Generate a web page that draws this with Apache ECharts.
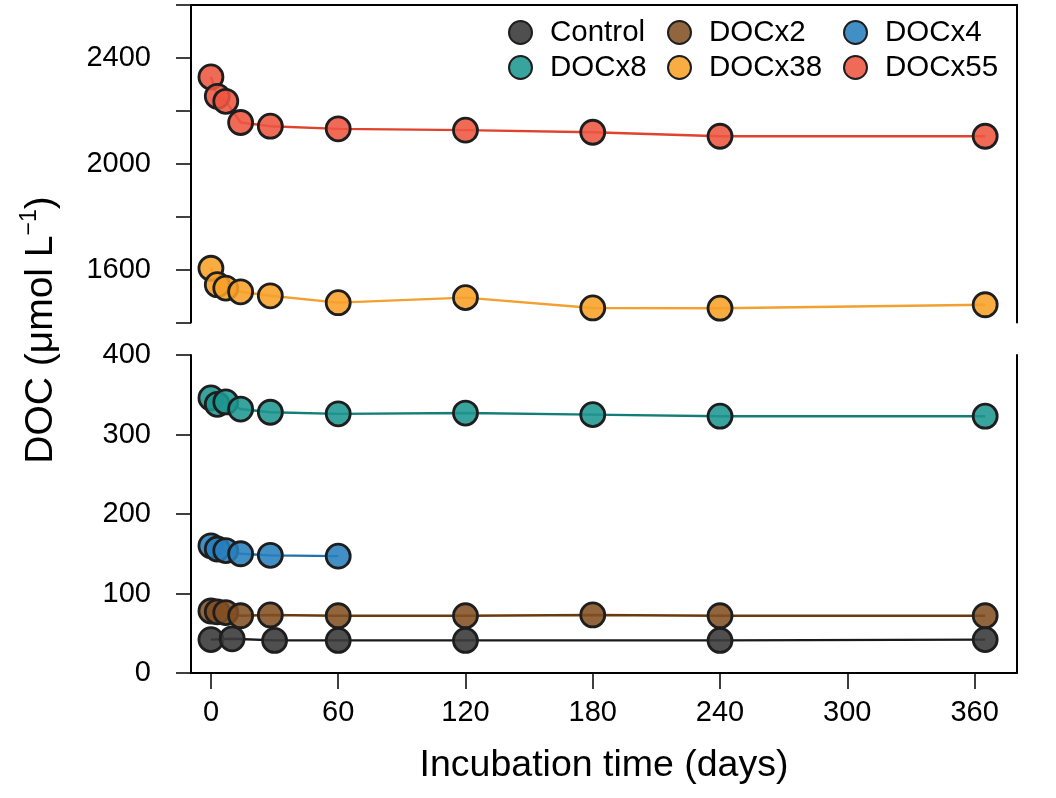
<!DOCTYPE html>
<html>
<head>
<meta charset="utf-8">
<script src="https://cdn.jsdelivr.net/npm/echarts@6/dist/echarts.min.js"></script>
<style>html,body{margin:0;padding:0;background:#fff;}#c{width:1056px;height:798px;}</style>
</head>
<body>
<div id="c"></div>
<script>
// ---- data ----
const days = [0, 3, 7, 14, 28, 60, 120, 180, 240, 365];
const controlDays = [0, 10, 30, 60, 120, 240, 365];
const docx4Days = [0, 3, 7, 14, 28, 60];
const control = [42, 43, 41, 41, 41, 41, 42];
const docx2 = [78, 77, 76, 72, 73, 72, 72, 73, 72, 72];
const docx4 = [160, 156, 154, 150, 148, 147];
const docx8 = [346, 338, 341, 332, 328, 326, 327, 325, 323, 323];
const docx38 = [1605, 1543, 1530, 1516, 1501, 1475, 1494, 1455, 1454, 1467];
const docx55 = [2328, 2255, 2236, 2156, 2142, 2132, 2127, 2119, 2104, 2104];
const xTicks = [0, 60, 120, 180, 240, 300, 360];
const upperLabels = [1600, 2000, 2400];

const FONT = '"Liberation Sans", Arial, Helvetica, sans-serif';
const pairs = (xs, ys) => xs.map((x, i) => [x, ys[i]]);

function mkSeries(name, xs, ys, fill, line, panel) {
  return {
    name: name, type: 'line',
    xAxisIndex: panel, yAxisIndex: panel === 0 ? 0 : 2,
    data: pairs(xs, ys),
    symbol: 'circle', symbolSize: 24,
    itemStyle: { color: fill, borderColor: '#1e1e1e', borderWidth: 2.8 },
    lineStyle: { color: line, width: 2.4 },
    emphasis: { disabled: true },
    z: 3
  };
}

const axisLineStyle = { color: '#000', width: 2 };

const chart = echarts.init(document.getElementById('c'), null, { renderer: 'canvas' });
const legendBase = {
  orient: 'vertical', top: 10, itemWidth: 23, itemHeight: 23, itemGap: 0,
  icon: 'circle',
  textStyle: { fontSize: 29.5, color: '#000', fontFamily: FONT, padding: [0, 0, 0, 13], lineHeight: 35 }
};
chart.setOption({
  animation: false,
  textStyle: { fontFamily: FONT },
  grid: [
    { left: 191, right: 39, top: 5, height: 317.5 },
    { left: 191, right: 39, top: 355, height: 318 }
  ],
  legend: [
    Object.assign({}, legendBase, { left: 503, data: ['Control', 'DOCx8'] }),
    Object.assign({}, legendBase, { left: 662, data: ['DOCx2', 'DOCx38'] }),
    Object.assign({}, legendBase, { left: 838, data: ['DOCx4', 'DOCx55'] })
  ],
  xAxis: [
    { type: 'value', gridIndex: 0, position: 'top', min: -9.4, max: 380,
      axisLine: { show: true, onZero: false, lineStyle: axisLineStyle },
      axisTick: { show: false }, axisLabel: { show: false }, splitLine: { show: false } },
    { type: 'value', gridIndex: 1, position: 'bottom', min: -9.4, max: 380,
      axisLine: { show: true, onZero: false, lineStyle: axisLineStyle },
      axisTick: { show: true, length: 16, lineStyle: { color: '#000', width: 1.5 }, customValues: xTicks },
      axisLabel: { show: true, fontSize: 29, color: '#000', margin: 25, fontFamily: FONT, customValues: xTicks },
      splitLine: { show: false },
      name: 'Incubation time (days)', nameLocation: 'middle', nameGap: 74,
      nameTextStyle: { fontSize: 37.5, color: '#000', fontFamily: FONT } }
  ],
  yAxis: [
    { type: 'value', gridIndex: 0, position: 'left', min: 1400, max: 2600, interval: 200,
      axisLine: { show: true, onZero: false, lineStyle: axisLineStyle },
      axisTick: { show: true, length: 15, lineStyle: { color: '#000', width: 1.5 } },
      axisLabel: { fontSize: 29, color: '#000', margin: 40, fontFamily: FONT,
        formatter: v => upperLabels.indexOf(v) >= 0 ? String(v) : '' },
      splitLine: { show: false } },
    { type: 'value', gridIndex: 0, position: 'right', min: 1400, max: 2600,
      axisLine: { show: true, onZero: false, lineStyle: axisLineStyle },
      axisTick: { show: false }, axisLabel: { show: false }, splitLine: { show: false } },
    { type: 'value', gridIndex: 1, position: 'left', min: 0, max: 400, interval: 100,
      axisLine: { show: true, onZero: false, lineStyle: axisLineStyle },
      axisTick: { show: true, length: 15, lineStyle: { color: '#000', width: 1.5 } },
      axisLabel: { fontSize: 29, color: '#000', margin: 40, fontFamily: FONT },
      splitLine: { show: false } },
    { type: 'value', gridIndex: 1, position: 'right', min: 0, max: 400,
      axisLine: { show: true, onZero: false, lineStyle: axisLineStyle },
      axisTick: { show: false }, axisLabel: { show: false }, splitLine: { show: false } }
  ],
  graphic: [{
    type: 'text', x: 41, y: 330, rotation: Math.PI / 2,
    style: {
      text: '{a|DOC (μmol L}{s|−1}{a|)}',
      align: 'center', verticalAlign: 'middle', fill: '#000',
      rich: {
        a: { fontSize: 39, fontFamily: FONT, fill: '#000', lineHeight: 46 },
        s: { fontSize: 23, fontFamily: FONT, fill: '#000', verticalAlign: 'top', lineHeight: 25, padding: [0, 0, 16, 0] }
      }
    }
  }],
  series: [
    mkSeries('Control', controlDays, control, 'rgba(60,60,60,0.9)', '#1a1a1a', 1),
    mkSeries('DOCx2', days, docx2, 'rgba(130,80,35,0.88)', '#6b3a0c', 1),
    mkSeries('DOCx4', docx4Days, docx4, 'rgba(40,128,190,0.88)', '#1f72ad', 1),
    mkSeries('DOCx8', days, docx8, 'rgba(30,150,145,0.88)', '#137e78', 1),
    mkSeries('DOCx38', days, docx38, 'rgba(248,160,40,0.88)', '#f2a030', 0),
    mkSeries('DOCx55', days, docx55, 'rgba(238,85,65,0.88)', '#e0432d', 0)
  ]
});
</script>
</body>
</html>
